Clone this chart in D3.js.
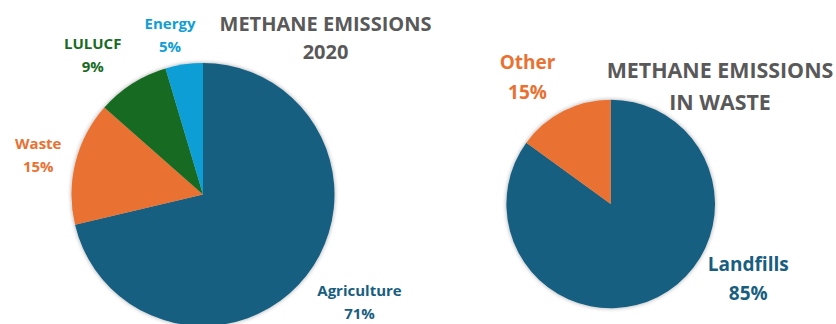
<!DOCTYPE html>
<html>
<head>
<meta charset="utf-8">
<script src="https://cdn.jsdelivr.net/npm/d3@7"></script>
<style>
  html, body { margin: 0; padding: 0; background: #ffffff; }
  svg { display: block; }
  text { font-family: "Open Sans", Roboto, sans-serif; font-weight: 700; }
</style>
</head>
<body>
<svg id="chart" width="836" height="324"></svg>
<script>
// ---- data ----
const sectorCategories = ["Agriculture", "Waste", "LULUCF", "Energy"];
const sectorValues = [71.3, 15.2, 8.9, 4.6];
const sectorLabels = ["71%", "15%", "9%", "5%"];
const sectorColors = ["#175E80", "#E97132", "#196B24", "#0F9ED5"];

const wasteCategories = ["Landfills", "Other"];
const wasteValues = [85, 15];
const wasteLabels = ["85%", "15%"];
const wasteColors = ["#175E80", "#E97132"];

const titleLeft = ["METHANE EMISSIONS", "2020"];
const titleRight = ["METHANE EMISSIONS", "IN WASTE"];

// ---- drawing ----
const svg = d3.select("#chart");
const defs = svg.append("defs");
const f = defs.append("filter").attr("id", "shadow")
  .attr("x", "-10%").attr("y", "-10%").attr("width", "120%").attr("height", "120%");
f.append("feDropShadow").attr("dx", 0).attr("dy", 0).attr("stdDeviation", 2)
  .attr("flood-color", "#000").attr("flood-opacity", 0.35);

function drawPie(cfg) {
  const pie = d3.pie().sort(null).value(d => d);
  const arcs = pie(cfg.values);
  const arc = d3.arc().innerRadius(0).outerRadius(cfg.r);
  const g = svg.append("g").attr("transform", `translate(${cfg.cx},${cfg.cy})`);
  g.append("g").attr("filter", "url(#shadow)")
    .selectAll("path").data(arcs).join("path")
    .attr("d", arc)
    .attr("fill", (d, i) => cfg.colors[i]);

  cfg.labelPos.forEach((p, i) => {
    const t = svg.append("text")
      .attr("text-anchor", "middle")
      .attr("fill", cfg.colors[i])
      .style("font-size", cfg.labelSize + "px");
    t.append("tspan").attr("x", p[0]).attr("y", p[1]).text(cfg.cats[i]);
    t.append("tspan").attr("x", p[0]).attr("y", p[1] + cfg.lineGap).text(cfg.labels[i]);
  });
}

drawPie({
  cx: 203, cy: 194.5, r: 131.5,
  values: sectorValues, colors: sectorColors, cats: sectorCategories, labels: sectorLabels,
  labelSize: 15, lineGap: 22.5,
  labelPos: [[359.5, 296], [38.3, 149], [92.7, 49.3], [170, 29.3]]
});

drawPie({
  cx: 610.7, cy: 204, r: 104.3,
  values: wasteValues, colors: wasteColors, cats: wasteCategories, labels: wasteLabels,
  labelSize: 19, lineGap: 29.3,
  labelPos: [[748.3, 270.7], [527.5, 69.3]]
});

function drawTitle(lines, x, y, size, gap) {
  const t = svg.append("text").attr("text-anchor", "middle").attr("fill", "#595959")
    .style("font-size", size + "px");
  lines.forEach((l, i) => t.append("tspan").attr("x", x).attr("y", y + i * gap).text(l));
}
drawTitle(titleLeft, 325.5, 30.7, 20, 28.6);
drawTitle(titleRight, 720, 78.3, 21.4, 31.7);
</script>
</body>
</html>
